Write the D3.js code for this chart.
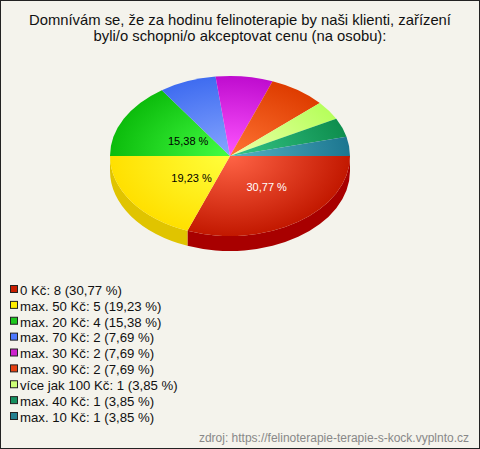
<!DOCTYPE html>
<html>
<head>
<meta charset="utf-8">
<script src="https://cdn.jsdelivr.net/npm/d3@7"></script>
<style>
  html, body { margin: 0; padding: 0; background: #fff; }
  svg { display: block; font-family: "Liberation Sans", Arial, sans-serif; }
</style>
</head>
<body>
<div id="chart"></div>
<script>
// Chart data
const titleLines = [
  "Domnívám se, že za hodinu felinoterapie by naši klienti, zařízení",
  "byli/o schopni/o akceptovat cenu (na osobu):"
];
const categories = ["0 Kč", "max. 50 Kč", "max. 20 Kč", "max. 70 Kč", "max. 30 Kč",
  "max. 90 Kč", "více jak 100 Kč", "max. 40 Kč", "max. 10 Kč"];
const counts = [8, 5, 4, 2, 2, 2, 1, 1, 1];
const percentLabels = ["30,77 %", "19,23 %", "15,38 %", "7,69 %", "7,69 %",
  "7,69 %", "3,85 %", "3,85 %", "3,85 %"];
// light (centre) / dark (edge) / legend swatch / side colours
const lightColors = ["#ff6446", "#ffff3c", "#44ff44", "#86a6ff", "#ff55ff", "#ff7434", "#eeffaa", "#36c688", "#56b4c4"];
const darkColors = ["#c21800", "#ffe000", "#0cbc0c", "#3f6cf0", "#bf0ccf", "#de3c00", "#b6ff5c", "#0e8e4e", "#1c7690"];
const swatchColors = ["#c81e00", "#ffee00", "#1ec81e", "#4d79ff", "#cc22cc", "#e64010", "#ccff77", "#159060", "#227f90"];
const sideColors = ["#a80000", "#e0c400", "#0a9a0a", "#3050c0", "#9a0aa8", "#b83000", "#98d84a", "#0a7040", "#165e74"];
const labelColors = ["#ffffff", "#000000", "#000000"];
const sourceText = "zdroj: https://felinoterapie-terapie-s-kock.vyplnto.cz";

const width = 480, height = 449;
const cx = 230, cy = 156, rx = 120, ry = 80, depth = 15;

const svg = d3.select("#chart").append("svg")
  .attr("width", width)
  .attr("height", height);

// Background and frame
svg.append("rect")
  .attr("x", 0.5).attr("y", 0.5)
  .attr("width", width - 1).attr("height", height - 1)
  .attr("fill", "#f4f3ec")
  .attr("stroke", "#222");

// Title
svg.append("g").selectAll("text")
  .data(titleLines)
  .join("text")
  .attr("x", 240)
  .attr("y", (d, i) => 25 + i * 16)
  .attr("text-anchor", "middle")
  .attr("font-size", 14.8)
  .attr("fill", "#111")
  .text(d => d);

// Pie angles (parametric, clockwise from 3 o'clock)
const slices = d3.pie().sort(null).startAngle(0).endAngle(2 * Math.PI)(counts);
const pt = (t, dy = 0) => [cx + rx * Math.cos(t), cy + ry * Math.sin(t) + dy];

const defs = svg.append("defs");
slices.forEach((s, i) => {
  const g = defs.append("radialGradient")
    .attr("id", "grad" + i)
    .attr("gradientUnits", "userSpaceOnUse")
    .attr("cx", 0).attr("cy", 0).attr("r", rx)
    .attr("gradientTransform", `translate(${cx},${cy}) scale(1,${ry / rx})`);
  g.append("stop").attr("offset", "0%").attr("stop-color", lightColors[i]);
  g.append("stop").attr("offset", "100%").attr("stop-color", darkColors[i]);
});

// Side walls (front half only)
const sideG = svg.append("g");
slices.forEach((s, i) => {
  const a0 = Math.max(s.startAngle, 0);
  const a1 = Math.min(s.endAngle, Math.PI);
  if (a1 <= a0) return;
  const p0 = pt(a0), p1 = pt(a1), q1 = pt(a1, depth), q0 = pt(a0, depth);
  const path = `M${p0} A${rx},${ry} 0 0 1 ${p1} L${q1} A${rx},${ry} 0 0 0 ${q0} Z`;
  sideG.append("path")
    .attr("d", path)
    .attr("fill", sideColors[i]);
});

// Top faces
const topG = svg.append("g");
slices.forEach((s, i) => {
  const p0 = pt(s.startAngle), p1 = pt(s.endAngle);
  const large = s.endAngle - s.startAngle > Math.PI ? 1 : 0;
  topG.append("path")
    .attr("d", `M${cx},${cy} L${p0} A${rx},${ry} 0 ${large} 1 ${p1} Z`)
    .attr("fill", `url(#grad${i})`);
});

// Percent labels on the large slices
slices.forEach((s, i) => {
  if (counts[i] / d3.sum(counts) < 0.1) return;
  const mid = (s.startAngle + s.endAngle) / 2;
  const [lx, ly] = [cx + rx * 0.45 * Math.cos(mid) + 6, cy + ry * 0.45 * Math.sin(mid) + 2];
  svg.append("text")
    .attr("x", lx).attr("y", ly)
    .attr("dy", "0.35em")
    .attr("text-anchor", "middle")
    .attr("font-size", 11)
    .attr("fill", labelColors[i])
    .text(percentLabels[i]);
});

// Legend
const legendY = d3.scalePoint().domain(categories).range([290, 417]);
const legend = svg.append("g");
const item = legend.selectAll("g")
  .data(categories)
  .join("g")
  .attr("transform", d => `translate(0,${legendY(d)})`);

item.append("rect")
  .attr("x", 10.5).attr("y", -4.5)
  .attr("width", 7).attr("height", 7)
  .attr("fill", (d, i) => swatchColors[i])
  .attr("stroke", "#222");

item.append("text")
  .attr("x", 20)
  .attr("y", 0)
  .attr("dy", "0.36em")
  .attr("font-size", 13.2)
  .attr("fill", "#111")
  .text((d, i) => `${d}: ${counts[i]} (${percentLabels[i]})`);

// Source
svg.append("text")
  .attr("x", 469)
  .attr("y", 442)
  .attr("text-anchor", "end")
  .attr("font-size", 12)
  .attr("fill", "#888")
  .text(sourceText);
</script>
</body>
</html>
